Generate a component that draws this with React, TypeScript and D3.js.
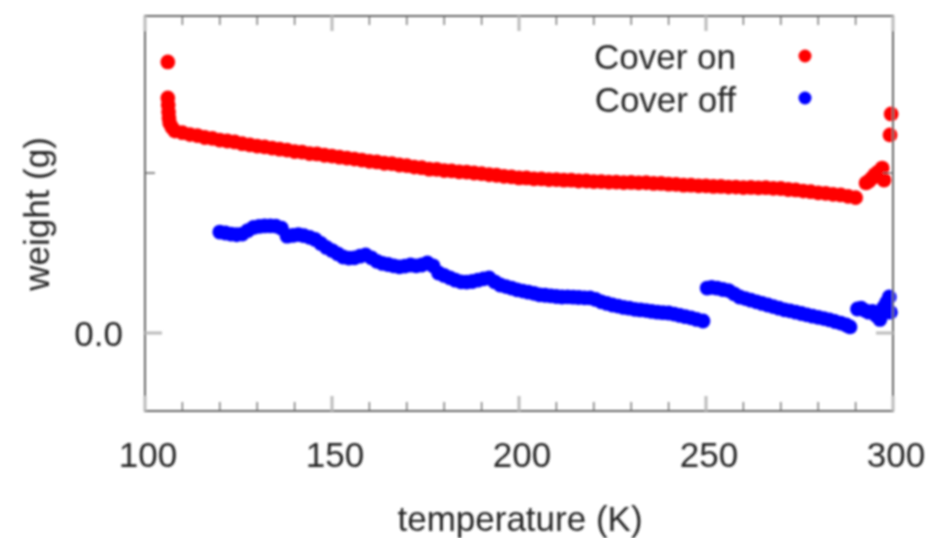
import React from "react";
import * as d3 from "d3";

const xTicks = [100, 150, 200, 250, 300];
const xMinorTicks = d3.range(100, 301, 10);
const yTicks = [0, 0.1];
const yTickLabels = ["0.0", ""];
const seriesNames = ["Cover on", "Cover off"];
const seriesColors = ["#ff0000", "#0000ff"];

const coverOn: [number, number][] = [
  [106.1, 0.1694], [106.1, 0.1469], [106.2, 0.1425], [106.3, 0.1381], [106.4, 0.1344], [106.6, 0.1313],
  [107.2, 0.1285], [108, 0.1262], [110, 0.1252], [112, 0.1240], [114, 0.1234], [116, 0.1222], [118, 0.1217],
  [120, 0.1206], [122, 0.1200], [124, 0.1194], [126, 0.1183], [128, 0.1176], [130, 0.1168], [132, 0.1163],
  [134, 0.1156], [136, 0.1149], [138, 0.1143], [140, 0.1134], [142, 0.1131], [144, 0.1121], [146, 0.1119],
  [148, 0.1111], [150, 0.1106], [152, 0.1099], [154, 0.1093], [156, 0.1087], [158, 0.1081], [160, 0.1073],
  [162, 0.1069], [164, 0.1061], [166, 0.1059], [168, 0.1050], [170, 0.1046], [172, 0.1037], [174, 0.1033],
  [176, 0.1024], [178, 0.1023], [180, 0.1015], [182, 0.1013], [184, 0.1007], [186, 0.1006], [188, 0.1000],
  [190, 0.0996], [192, 0.0989], [194, 0.0986], [196, 0.0979], [198, 0.0976], [200, 0.0969], [202, 0.0969],
  [204, 0.0963], [206, 0.0963], [208, 0.0959], [210, 0.0959], [212, 0.0955], [214, 0.0955], [216, 0.0950],
  [218, 0.0950], [220, 0.0946], [222, 0.0946], [224, 0.0943], [226, 0.0943], [228, 0.0940], [230, 0.0941],
  [232, 0.0938], [234, 0.0939], [236, 0.0935], [238, 0.0935], [240, 0.0930], [242, 0.0929], [244, 0.0924],
  [246, 0.0924], [248, 0.0920], [250, 0.0920], [252, 0.0916], [254, 0.0916], [256, 0.0912], [258, 0.0912],
  [260, 0.0909], [262, 0.0910], [264, 0.0907], [266, 0.0908], [268, 0.0904], [270, 0.0903], [272, 0.0897],
  [274, 0.0894], [276, 0.0887], [278, 0.0883], [280, 0.0876], [282, 0.0873], [284, 0.0867], [286, 0.0863],
  [288, 0.0854], [290, 0.0846], [292.8, 0.0938], [293.6, 0.0950], [294.4, 0.0969], [295.2, 0.0990],
  [296, 0.1006], [297.1, 0.1031], [297.6, 0.0956], [299.2, 0.1238], [299.5, 0.1369],
];

const coverOff: [number, number][] = [
  [120, 0.0631], [121.5, 0.0625], [123, 0.0618], [124.5, 0.0614], [126, 0.0618], [127.5, 0.0640],
  [129, 0.0660], [130.5, 0.0666], [132, 0.0669], [133.5, 0.0670], [135, 0.0668], [136.5, 0.0655],
  [138, 0.0605], [139.5, 0.0610], [141, 0.0615], [142.5, 0.0608], [144, 0.0598], [145.5, 0.0585],
  [147, 0.0560], [148.5, 0.0535], [150, 0.0515], [151.5, 0.0495], [153, 0.0475], [154.5, 0.0468],
  [156, 0.0470], [157.5, 0.0480], [159, 0.0488], [160.5, 0.0470], [162, 0.0448], [163.5, 0.0435],
  [165, 0.0428], [166.5, 0.0420], [168, 0.0413], [169.5, 0.0418], [171, 0.0425], [172.5, 0.0420],
  [174, 0.0425], [175.5, 0.0438], [177, 0.0420], [178.5, 0.0375], [180, 0.0360], [181.5, 0.0345],
  [183, 0.0330], [184.5, 0.0320], [186, 0.0318], [187.5, 0.0322], [189, 0.0330], [190.5, 0.0338],
  [192, 0.0344], [193.5, 0.0320], [195, 0.0300], [196.5, 0.0290], [198, 0.0281], [199.5, 0.0270],
  [201, 0.0262], [202.5, 0.0255], [204, 0.0248], [205.5, 0.0238], [207, 0.0236], [208.5, 0.0232],
  [210, 0.0228], [211.5, 0.0225], [213, 0.0226], [214.5, 0.0224], [216, 0.0222], [217.5, 0.0220],
  [219, 0.0219], [220.5, 0.0210], [222, 0.0195], [223.5, 0.0185], [225, 0.0175], [226.5, 0.0168],
  [228, 0.0160], [229.5, 0.0155], [231, 0.0148], [232.5, 0.0144], [234, 0.0140], [235.5, 0.0135],
  [237, 0.0130], [238.5, 0.0127], [240, 0.0125], [241.5, 0.0118], [243, 0.0110], [244.5, 0.0102],
  [246, 0.0095], [247.5, 0.0085], [249.2, 0.0075],
  [250.3, 0.0281], [251.5, 0.0285], [253, 0.0280], [254.5, 0.0272], [256, 0.0265], [257.5, 0.0245],
  [259, 0.0225], [260.5, 0.0215], [262, 0.0205], [263.5, 0.0195], [265, 0.0185], [266.5, 0.0175],
  [268, 0.0165], [269.5, 0.0155], [271, 0.0145], [272.5, 0.0138], [274, 0.0130], [275.5, 0.0122],
  [277, 0.0113], [278.5, 0.0105], [280, 0.0098], [281.5, 0.0090], [283, 0.0082], [284.5, 0.0072],
  [286, 0.0062], [287.5, 0.0050], [288.5, 0.0038],
  [290.5, 0.0150], [291.5, 0.0155], [292.5, 0.0140], [293.5, 0.0130], [294.5, 0.0135], [295.5, 0.0110],
  [296.5, 0.0085], [297, 0.0120], [297.5, 0.0160], [298.3, 0.0190], [299, 0.0225], [299.3, 0.0130],
];

const W = 931;
const H = 538;
const M = { left: 145, right: 893, top: 16, bottom: 411 };
const FONT = "'Liberation Sans', Arial, sans-serif";
const FS = 35;

export default function App() {
  const x = d3.scaleLinear().domain([100, 300]).range([M.left, M.right]);
  const y = d3.scaleLinear().domain([-0.04875, 0.198125]).range([M.bottom, M.top]);
  const axisColor = "#666";
  const textColor = "#262626";
  const series = [coverOn, coverOff];

  return (
    <svg width={W} height={H} style={{ position: "absolute", left: 0, top: 0, background: "#fff" }}>
      <defs>
        <filter id="soft" x="-5%" y="-5%" width="110%" height="110%">
          <feGaussianBlur stdDeviation="0.8" />
        </filter>
      </defs>
      <g filter="url(#soft)">
        {series.map((s, si) => (
          <g key={si}>
            {s.map((d, i) => (
              <circle key={i} cx={x(d[0])} cy={y(d[1])} r={7.4} fill={seriesColors[si]} />
            ))}
          </g>
        ))}
        {/* frame */}
        <rect x={M.left} y={M.top} width={M.right - M.left} height={M.bottom - M.top}
          fill="none" stroke={axisColor} strokeWidth={2} />
        {xMinorTicks.map((t) => {
          const major = xTicks.includes(t);
          const len = major ? 15 : 9;
          return (
            <g key={t} stroke={major ? "#bbb" : axisColor} strokeWidth={major ? 3 : 1.3}>
              <line x1={x(t)} x2={x(t)} y1={M.bottom} y2={M.bottom - len} />
              <line x1={x(t)} x2={x(t)} y1={M.top} y2={M.top + len} />
            </g>
          );
        })}
        {yTicks.map((t, i) => (
          <g key={t} stroke={i === 0 ? "#bbb" : axisColor} strokeWidth={i === 0 ? 3 : 1.5}>
            <line x1={M.left} x2={M.left + (i === 0 ? 17 : 10)} y1={y(t)} y2={y(t)} />
            <line x1={M.right} x2={M.right - (i === 0 ? 17 : 10)} y1={y(t)} y2={y(t)} />
          </g>
        ))}
        {xTicks.map((t) => (
          <text key={t} x={x(t) + 3} y={467} textAnchor="middle" fontFamily={FONT} fontSize={FS} fill={textColor}>
            {t}
          </text>
        ))}
        {yTicks.map((t, i) => (
          <text key={t} x={123} y={y(t) + 13} textAnchor="end" fontFamily={FONT} fontSize={FS} fill={textColor}>
            {yTickLabels[i]}
          </text>
        ))}
        <text x={520} y={531} textAnchor="middle" fontFamily={FONT} fontSize={FS} fill={textColor}>
          temperature (K)
        </text>
        <text transform="translate(49,214) rotate(-90)" textAnchor="middle" fontFamily={FONT} fontSize={FS} fill={textColor}>
          weight (g)
        </text>
        {seriesNames.map((n, i) => (
          <g key={n}>
            <text x={736} y={69 + i * 43} textAnchor="end" fontFamily={FONT} fontSize={FS} fill={textColor}>
              {n}
            </text>
            <circle cx={805} cy={56 + i * 42} r={6.5} fill={seriesColors[i]} />
          </g>
        ))}
      </g>
    </svg>
  );
}
